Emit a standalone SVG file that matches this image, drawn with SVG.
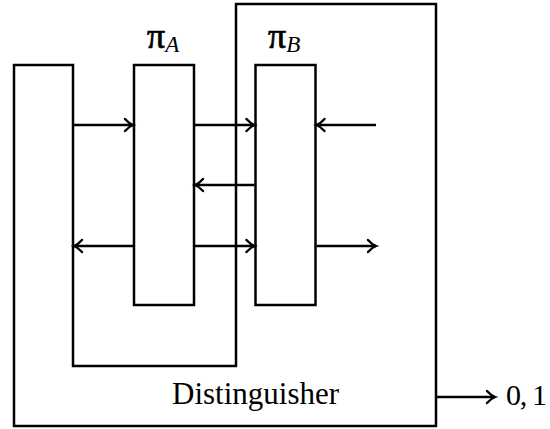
<svg xmlns="http://www.w3.org/2000/svg" width="550" height="429" viewBox="0 0 550 429">
<style>
.box{fill:none;stroke:#000;stroke-width:2.5;stroke-linejoin:miter}
.ln{fill:none;stroke:#000;stroke-width:2.5}
.arr{marker-end:url(#ah)}
.t{font-family:"Liberation Serif","Times New Roman",serif;fill:#000}
.pi{font-size:36px;stroke:#000;stroke-width:0.7}
.sub{font-style:italic;font-size:23px;stroke:none}
</style>
<defs>
<marker id="ah" markerUnits="userSpaceOnUse" markerWidth="16" markerHeight="16" refX="12" refY="8" orient="auto" overflow="visible">
<path d="M4,2 Q8,6.5 12,8 Q8,9.5 4,14" fill="none" stroke="#000" stroke-width="2.4" stroke-linecap="round"/>
</marker>
</defs>
<rect width="550" height="429" fill="#fff"/>
<g id="distinguisher">
<path class="box" d="M14,65 H73 V366 H236 V4 H436 V426 H14 Z"/>
<text class="t" x="172" y="404" font-size="31">Distinguisher</text>
</g>
<g id="piA">
<rect class="box" x="134" y="65" width="60" height="240"/>
<text class="t pi" x="147" y="48">π<tspan class="sub" dy="4">A</tspan></text>
</g>
<g id="piB">
<rect class="box" x="255.5" y="65" width="60" height="240"/>
<text class="t pi" x="268" y="48">π<tspan class="sub" dy="4">B</tspan></text>
</g>
<g id="connectors">
<line class="ln arr" x1="74" y1="125" x2="133" y2="125"/>
<line class="ln arr" x1="195" y1="125" x2="254.5" y2="125"/>
<line class="ln arr" x1="376" y1="125" x2="316.5" y2="125"/>
<line class="ln arr" x1="254.5" y1="185" x2="195" y2="185"/>
<line class="ln arr" x1="133" y1="246" x2="74" y2="246"/>
<line class="ln arr" x1="195" y1="246" x2="254.5" y2="246"/>
<line class="ln arr" x1="316.5" y1="246" x2="376" y2="246"/>
<line class="ln arr" x1="437" y1="397" x2="495" y2="397"/>
</g>
<g id="output">
<text class="t" x="506" y="405" font-size="30" textLength="41" lengthAdjust="spacing">0, 1</text>
</g>
</svg>
